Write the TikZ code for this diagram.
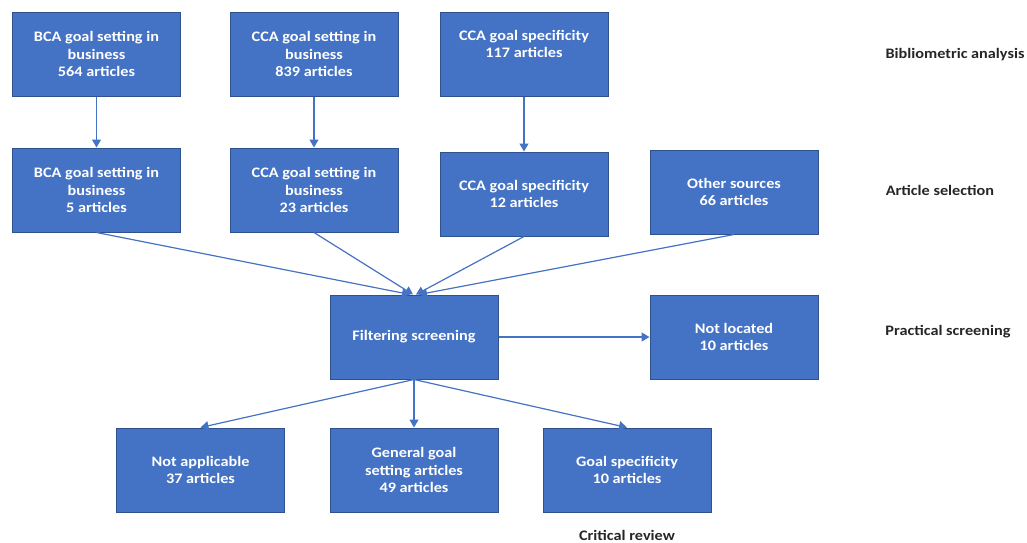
\documentclass[tikz,border=0pt]{standalone}
\usepackage{fontspec}
\setmainfont{Carlito}[FakeStretch=1.12]
\usetikzlibrary{arrows.meta}
\definecolor{boxblue}{HTML}{4472C4}
\definecolor{boxedge}{HTML}{2F528F}
\begin{document}
\begin{tikzpicture}[x=1pt,y=-1pt,
  box/.style={draw=boxedge,line width=1pt,fill=boxblue,text=white,minimum width=168pt,minimum height=84pt,
    align=center,font=\fontsize{14.5}{17.5}\selectfont\bfseries,inner sep=2pt},
  lbl/.style={font=\fontsize{14.5}{17.5}\selectfont\bfseries,text=black!85,anchor=center},
  arr/.style={draw=boxblue,line width=1.2pt,-{Triangle[width=9pt,length=8pt]}}]
\useasboundingbox (0,0) rectangle (1027,542);
% row 1
\node[box] (b1) at (96.5,54) {BCA goal setting in\\business\\564 articles};
\node[box] (b2) at (314,54) {CCA goal setting in\\business\\839 articles};
\node[box,text depth=20pt] (b3) at (524,54) {CCA goal specificity\\117 articles};
% row 2
\node[box] (b4) at (96.5,190) {BCA goal setting in\\business\\5 articles};
\node[box] (b5) at (314,190) {CCA goal setting in\\business\\23 articles};
\node[box] (b6) at (524,194) {CCA goal specificity\\12 articles};
\node[box] (b7) at (734,192) {Other sources\\66 articles};
% row 3
\node[box] (f) at (414,337) {Filtering screening};
\node[box] (nl) at (734,337) {Not located\\10 articles};
% row 4
\node[box] (na) at (200.5,470) {Not applicable\\37 articles};
\node[box] (gg) at (414,470) {General goal\\setting articles\\49 articles};
\node[box] (gs) at (627,470) {Goal specificity\\10 articles};
% labels
\node[lbl] (l1) at (955,55) {Bibliometric analysis};
\node[lbl] (l2) at (940,190) {Article selection};
\node[lbl] (l3) at (948,332) {Practical screening};
\node[lbl] (l4) at (627,535) {Critical review};
% arrows
\draw[arr] (b1.south) -- (b4.north);
\draw[arr] (b2.south) -- (b5.north);
\draw[arr] (b3.south) -- (b6.north);
\draw[arr] (b4.south) -- ([xshift=-4pt]f.north);
\draw[arr] (b5.south) -- ([xshift=-1pt]f.north);
\draw[arr] (b6.south) -- ([xshift=2pt]f.north);
\draw[arr] (b7.south) -- ([xshift=5pt]f.north);
\draw[arr] (f.east) -- (nl.west);
\draw[arr] (f.south) -- (na.north);
\draw[arr] (f.south) -- (gg.north);
\draw[arr] (f.south) -- (gs.north);
\end{tikzpicture}
\end{document}
